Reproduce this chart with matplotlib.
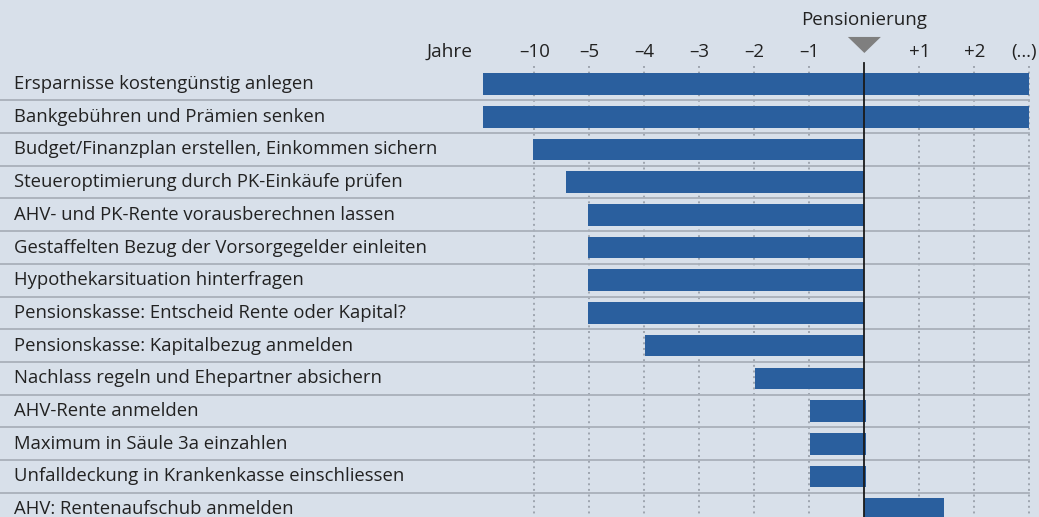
import numpy as np
import matplotlib
matplotlib.use('Agg')
import matplotlib.pyplot as plt
from matplotlib.patches import Polygon

plt.rcParams['font.family'] = ['Open Sans', 'DejaVu Sans']

# Aufgaben vor/nach der Pensionierung (Achse: 0 = Pensionierung, -6 = "-10 Jahre", +3 = "(...)")
aufgaben = ['Ersparnisse kostengünstig anlegen',
            'Bankgebühren und Prämien senken',
            'Budget/Finanzplan erstellen, Einkommen sichern',
            'Steueroptimierung durch PK-Einkäufe prüfen',
            'AHV- und PK-Rente vorausberechnen lassen',
            'Gestaffelten Bezug der Vorsorgegelder einleiten',
            'Hypothekarsituation hinterfragen',
            'Pensionskasse: Entscheid Rente oder Kapital?',
            'Pensionskasse: Kapitalbezug anmelden',
            'Nachlass regeln und Ehepartner absichern',
            'AHV-Rente anmelden',
            'Maximum in Säule 3a einzahlen',
            'Unfalldeckung in Krankenkasse einschliessen',
            'AHV: Rentenaufschub anmelden']
start = [-6.93, -6.93, -6.03, -5.42, -5.02, -5.02, -5.02, -5.02, -3.98, -1.98, -0.99, -0.99, -0.99, 0.0]
ende = [3.0, 3.0, 0.0, 0.0, 0.0, 0.0, 0.0, 0.0, 0.0, 0.0, 0.03, 0.03, 0.03, 1.45]

tick_pos = [-6, -5, -4, -3, -2, -1, 1, 2, 3]
tick_lab = ['\u201310', '\u20135', '\u20134', '\u20133', '\u20132', '\u20131', '+1', '+2', '(\u2026)']

bg = '#d8e0ea'
blau = '#2a5f9e'
text_col = '#222222'

fig = plt.figure(figsize=(10.39, 5.17), dpi=100, facecolor=bg)
ax = fig.add_axes([0, 0, 1, 1], facecolor=bg)
ax.set_xlim(-15.715, 3.175)
ax.set_ylim(13.24, -2.57)
ax.axis('off')

y = np.arange(len(aufgaben))
breite = np.array(ende) - np.array(start)
ax.barh(y, breite, left=start, height=0.66, color=blau, zorder=3)

# Zeilentrenner
for i in range(len(aufgaben) - 1):
    ax.plot([-15.715, 3.0], [i + 0.5, i + 0.5], color='#a9b0ba', lw=1.3, zorder=2)

# gepunktete Gitterlinien
for p in tick_pos:
    ax.plot([p, p], [-0.55, 13.3], color='#9ea5af', lw=1.4, ls=(0, (1, 1.9)), zorder=1)

# Nulllinie (Pensionierung)
ax.plot([0, 0], [-0.64, 13.3], color='#1a1a1a', lw=1.3, zorder=4)

# Achsenbeschriftung oben
for p, l in zip(tick_pos[:-1], tick_lab[:-1]):
    ax.text(p, -0.98, l, ha='center', va='center', fontsize=13.5, color=text_col)
# letzte Beschriftung am rechten Rand
ax.text(1037 / 1039, -0.98, tick_lab[-1], transform=ax.get_yaxis_transform(),
        ha='right', va='center', fontsize=13.5, color=text_col)
ax.text(-7.13, -0.98, 'Jahre', ha='right', va='center', fontsize=13.8, color=text_col)
ax.text(0, -1.96, 'Pensionierung', ha='center', va='center', fontsize=13.5, color=text_col)
ax.add_patch(Polygon([[-0.3, -1.44], [0.3, -1.44], [0, -0.95]], closed=True,
                     facecolor='#7f7f7f', edgecolor='none', zorder=5))

# Zeilenbeschriftung
for i, t in enumerate(aufgaben):
    ax.text(14 / 1039, i, t, transform=ax.get_yaxis_transform(), ha='left', va='center',
            fontsize=13.3, color=text_col)

plt.savefig('out.png', dpi=100, facecolor=bg)
plt.close()
